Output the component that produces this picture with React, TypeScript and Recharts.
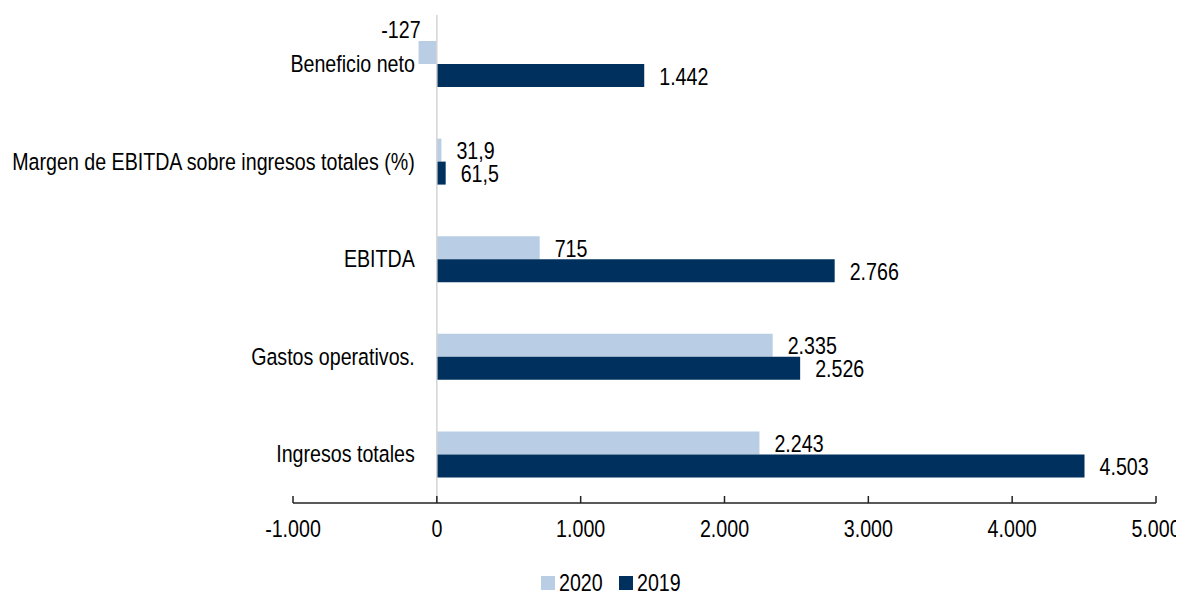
import React from "react";
import { BarChart, Bar, XAxis, YAxis, ReferenceLine, LabelList, Legend } from "recharts";

const categories = [
  "Beneficio neto",
  "Margen de EBITDA sobre ingresos totales (%)",
  "EBITDA",
  "Gastos operativos.",
  "Ingresos totales",
];
const values2020 = [-127, 31.9, 715, 2335, 2243];
const values2019 = [1442, 61.5, 2766, 2526, 4503];
const xTicks = [-1000, 0, 1000, 2000, 3000, 4000, 5000];
const seriesNames = ["2020", "2019"];

const COLOR_2020 = "#B9CDE5";
const COLOR_2019 = "#00305E";
const FONT = "'Liberation Sans', Arial, sans-serif";
const FS = 23.5;
const SX = 0.836;

const W = 1176;
const H = 583;
const Y_W = 1;
const MARGIN = { top: 7, right: 28, bottom: 48, left: 284 };
const X_MIN = -1000;
const X_MAX = 5000;
const PLOT_W = W - MARGIN.left - Y_W - MARGIN.right;
const ZERO_OFFSET = ((0 - X_MIN) / (X_MAX - X_MIN)) * PLOT_W;

const data = categories.map((c, i) => ({
  name: c,
  v2020: values2020[i],
  v2019: values2019[i],
}));

function fmt(v: number): string {
  const neg = v < 0;
  const a = Math.abs(v);
  const intPart = Math.floor(a);
  const dec = Math.round((a - intPart) * 10);
  let s = String(intPart).replace(/\B(?=(\d{3})+(?!\d))/g, ".");
  if (!Number.isInteger(v)) s += "," + dec;
  return (neg ? "-" : "") + s;
}

const NText = (p: { x: number; y: number; anchor: string; central?: boolean; children: any }) => (
  <text
    transform={`translate(${p.x},${p.y}) scale(${SX},1)`}
    x={0}
    y={0}
    textAnchor={p.anchor as any}
    dominantBaseline={p.central ? "central" : "auto"}
    fontFamily={FONT}
    fontSize={FS}
    fill="#000"
  >
    {p.children}
  </text>
);

const XTick = (props: any) => {
  const { x, y, payload } = props;
  return (
    <g>
      <line x1={x} x2={x} y1={y - 7} y2={y} stroke="#222" strokeWidth={1.5} />
      <NText x={x} y={y + 34} anchor="middle">
        {fmt(payload.value)}
      </NText>
    </g>
  );
};

const YTick = (props: any) => {
  const { x, y, payload } = props;
  return (
    <NText x={x + ZERO_OFFSET - 22} y={y} anchor="end" central>
      {payload.value}
    </NText>
  );
};

const BarLabel = (props: any) => {
  const { x, y, width, height, value } = props;
  const left = Math.min(x, x + width);
  const right = Math.max(x, x + width);
  if (value < 0) {
    return (
      <NText x={left + 2} y={y - 3} anchor="end">
        {fmt(value)}
      </NText>
    );
  }
  return (
    <NText x={right + 15} y={y + height / 2 + 1} anchor="start" central>
      {fmt(value)}
    </NText>
  );
};

const LegendContent = () => {
  const colors = [COLOR_2020, COLOR_2019];
  return (
    <div style={{ display: "flex", alignItems: "center", height: 24, fontFamily: FONT, fontSize: FS, color: "#000" }}>
      {seriesNames.map((n, i) => (
        <div key={n} style={{ display: "flex", alignItems: "center", marginRight: 18 }}>
          <div style={{ width: 14, height: 14, background: colors[i], marginRight: 4 }} />
          <span
            style={{
              lineHeight: "24px",
              display: "inline-block",
              transform: `scaleX(${SX})`,
              transformOrigin: "left center",
              width: 42,
              whiteSpace: "nowrap",
            }}
          >
            {n}
          </span>
        </div>
      ))}
    </div>
  );
};

export default function App() {
  return (
    <div style={{ width: W, height: H, position: "relative" }}>
      <BarChart
        width={W}
        height={H}
        data={data}
        layout="vertical"
        margin={MARGIN}
        barSize={23}
        barGap={0}
      >
        <XAxis
          type="number"
          domain={[X_MIN, X_MAX]}
          ticks={xTicks}
          allowDataOverflow
          height={40}
          tickSize={0}
          tickMargin={0}
          tickLine={false}
          axisLine={{ stroke: "#222", strokeWidth: 1.5 }}
          tick={<XTick />}
          interval={0}
        />
        <YAxis
          type="category"
          dataKey="name"
          width={Y_W}
          tickSize={0}
          tickMargin={0}
          tickLine={false}
          axisLine={false}
          tick={<YTick />}
          interval={0}
        />
        <ReferenceLine x={0} stroke="#D4D4D4" strokeWidth={1.5} />
        <Bar dataKey="v2020" name={seriesNames[0]} fill={COLOR_2020} isAnimationActive={false}>
          <LabelList dataKey="v2020" content={<BarLabel />} />
        </Bar>
        <Bar dataKey="v2019" name={seriesNames[1]} fill={COLOR_2019} isAnimationActive={false}>
          <LabelList dataKey="v2019" content={<BarLabel />} />
        </Bar>
        <Legend
          layout="horizontal"
          verticalAlign="middle"
          align="center"
          content={<LegendContent />}
          wrapperStyle={{ top: 563, left: 533, width: "auto", height: 24 }}
        />
      </BarChart>
    </div>
  );
}
